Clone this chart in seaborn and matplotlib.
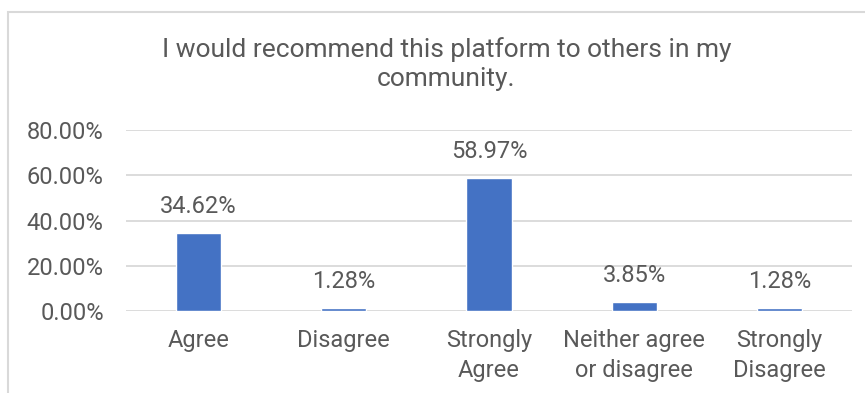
import matplotlib
matplotlib.use("Agg")
import matplotlib.pyplot as plt
import seaborn as sns
import pandas as pd
from matplotlib.patches import Rectangle
from matplotlib.ticker import FuncFormatter

categories = ["Agree", "Disagree", "Strongly\nAgree", "Neither agree\nor disagree", "Strongly\nDisagree"]
values = [34.62, 1.28, 58.97, 3.85, 1.28]
y_ticks = [0, 20, 40, 60, 80]
title = "I would recommend this platform to others in my\ncommunity."

sns.set_theme(style="white")
plt.rcParams["font.family"] = ["Roboto", "DejaVu Sans"]

text_color = "#595959"
grid_color = "#d9d9d9"
bar_color = "#4472C4"

W, H = 865, 393
fig = plt.figure(figsize=(W / 100, H / 100), dpi=100)
fig.patch.set_facecolor("white")

# outer chart frame
fig.patches.append(Rectangle((8 / W, -0.1), 1.2, 1 - 12 / H + 0.1, transform=fig.transFigure,
                             fill=False, edgecolor=grid_color, linewidth=1.5))

ax = fig.add_axes([126 / W, (H - 311) / H, (852 - 126) / W, (311 - 130) / H])
df = pd.DataFrame({"category": categories, "value": values})
sns.barplot(data=df, x="category", y="value", color=bar_color, width=0.31,
            saturation=1, ax=ax, zorder=3)

ax.set_ylim(0, 80)
ax.set_yticks(y_ticks)
ax.yaxis.set_major_formatter(FuncFormatter(lambda v, _: f"{v:.2f}%"))
ax.grid(axis="y", color=grid_color, linewidth=1.3, zorder=0)
ax.grid(axis="x", visible=False)
for s in ax.spines.values():
    s.set_visible(False)
ax.set_xlabel("")
ax.set_ylabel("")
ax.tick_params(axis="y", length=0, pad=16, labelsize=17, labelcolor=text_color)
ax.tick_params(axis="x", length=0, pad=13, labelsize=17, labelcolor=text_color)
for lbl in ax.get_xticklabels():
    lbl.set_linespacing(1.4)

for i, v in enumerate(values):
    ax.annotate(f"{v:.2f}%", (i, v), xytext=(0, 19), textcoords="offset points",
                ha="center", va="center", fontsize=17, color=text_color)

fig.text(0.516, 1 - 64 / H, title, ha="center", va="center", fontsize=19,
         color=text_color, linespacing=1.3)

fig.savefig("out.png", dpi=100)
